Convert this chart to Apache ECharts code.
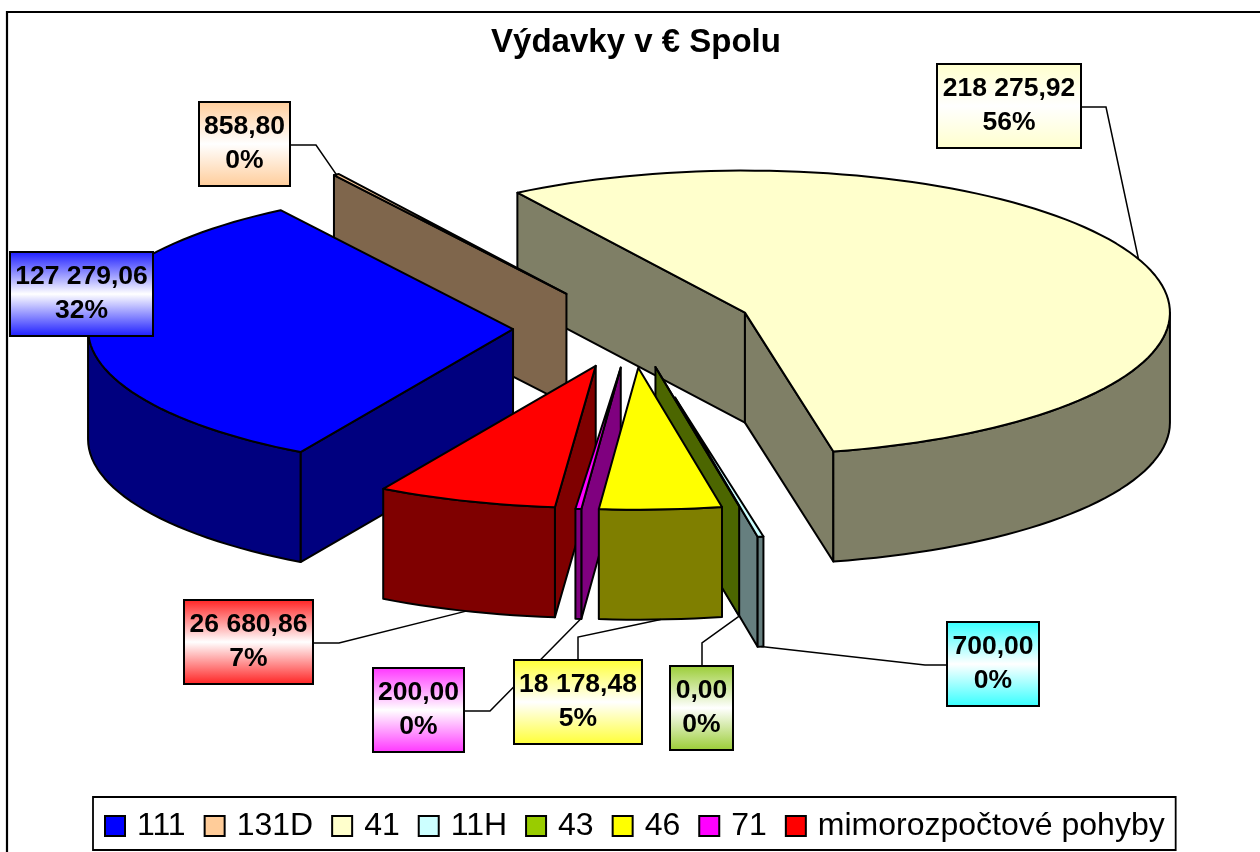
<!DOCTYPE html>
<html>
<head>
<meta charset="utf-8">
<style>
  html, body { margin: 0; padding: 0; background: #fff; }
  #chart { width: 1260px; height: 852px; }
</style>
<script src="https://cdn.jsdelivr.net/npm/echarts@6/dist/echarts.min.js"></script>
</head>
<body>
<div id="chart"></div>
<script>
// data
const chartTitle = 'Výdavky v € Spolu';
const categories = ['111', '131D', '41', '11H', '43', '46', '71', 'mimorozpočtové pohyby'];
const values = [127279.06, 858.80, 218275.92, 700.00, 0.00, 18178.48, 200.00, 26680.86];
const explodes = [28, 28.5, 28.7, 50, 28, 28, 28, 28]; // percent of radius
const colors = ['#0000ff', '#ffcc99', '#ffffcc', '#ccffff', '#99cc00', '#ffff00', '#ff00ff', '#ff0000'];
const labelColors = ['#1a1aff', '#ffcc99', '#ffffcc', '#33ffff', '#99cc33', '#ffff33', '#ff33ff', '#ff2020'];

// back to front
const drawOrder = ['41', '131D', '111', '11H', '43', 'mimorozpočtové pohyby', '71', '46'];

// pie layout, looks like Excel's tilted 3D pie
const cx = 632, cy = 328;
const rx = 425, ry = 142, depth = 110;
const firstAngle = 210;
const minSpan = 0.8; // thin slices still have to show up

// [x, y, w, h] of the label boxes
const labelBoxes = [
    [10, 252, 143, 84], [199, 102, 91, 84], [937, 64, 144, 84], [947, 622, 92, 84],
    [670, 666, 63, 84], [514, 660, 128, 84], [373, 668, 91, 84], [184, 600, 129, 84]
];
// leader line up to the last bend, the end is computed from the slice
const leaders = [
    null,
    [[290, 145], [316, 145]],
    [[1081, 107], [1106, 107]],
    [[1039, 665], [925, 665]],
    [[702, 666], [702, 643]],
    [[578, 660], [578, 637]],
    [[464, 711], [490, 711]],
    [[313, 643], [339, 643]]
];

const total = values.reduce((a, b) => a + b, 0);
const lineColor = '#000';
const lineW = 2;

function rad(d) { return d * Math.PI / 180; }

function darker(hex) {
    // walls are half as bright as the top
    const n = parseInt(hex.slice(1), 16);
    const r = (n >> 16 & 255) >> 1, g = (n >> 8 & 255) >> 1, b = (n & 255) >> 1;
    return 'rgb(' + r + ',' + g + ',' + b + ')';
}

function formatValue(v) {
    const parts = v.toFixed(2).split('.');
    return parts[0].replace(/\B(?=(\d{3})+$)/g, ' ') + ',' + parts[1];
}

// angles clockwise from the top
const slices = [];
let angle = firstAngle;
values.forEach(function (v, i) {
    const span = v / total * 360;
    const mid = angle + span / 2;
    const e = explodes[i] / 100;
    slices.push({
        start: angle,
        end: angle + (v > 0 ? Math.max(span, minSpan) : 0),
        mid: mid,
        ox: cx + rx * e * Math.sin(rad(mid)),
        oy: cy - ry * e * Math.cos(rad(mid))
    });
    angle += span;
});

function rimPoint(s, a, down) {
    return [s.ox + rx * Math.sin(rad(a)), s.oy - ry * Math.cos(rad(a)) + (down ? depth : 0)];
}

function arcPoints(s, a, b, down) {
    const pts = [];
    const n = Math.max(1, Math.ceil(Math.abs(b - a) / 2));
    for (let k = 0; k <= n; k++) {
        pts.push(rimPoint(s, a + (b - a) * k / n, down));
    }
    return pts;
}

function poly(points, fill) {
    return {
        type: 'polygon',
        shape: { points: points },
        style: { fill: fill, stroke: lineColor, lineWidth: lineW, lineJoin: 'round' },
        silent: true
    };
}

function wall(s, a, fill) {
    const p = rimPoint(s, a, false);
    return poly([[s.ox, s.oy], p, [p[0], p[1] + depth], [s.ox, s.oy + depth]], fill);
}

function renderSlice(i) {
    const s = slices[i];
    const side = darker(colors[i]);
    const children = [];
    // side walls, only the ones turned to the viewer
    if (Math.sin(rad(s.start)) < 0) children.push(wall(s, s.start, side));
    if (Math.sin(rad(s.end)) > 0) children.push(wall(s, s.end, side));
    // outer rim, front half is 90..270
    const ranges = [[90, 270], [450, 630]];
    ranges.forEach(function (r) {
        const a = Math.max(s.start, r[0]), b = Math.min(s.end, r[1]);
        if (b > a) {
            children.push(poly(arcPoints(s, a, b, false).concat(arcPoints(s, b, a, true)), side));
        }
    });
    // top
    children.push(poly([[s.ox, s.oy]].concat(arcPoints(s, s.start, s.end, false)), colors[i]));
    return { type: 'group', children: children };
}

function renderLeader(i) {
    const s = slices[i];
    if (!leaders[i]) return null;
    const front = Math.cos(rad(s.mid)) < 0;
    return {
        type: 'polyline',
        shape: { points: leaders[i].concat([rimPoint(s, s.mid, front)]) },
        style: { fill: null, stroke: lineColor, lineWidth: 1.5 },
        silent: true
    };
}

function renderLabel(i) {
    const box = labelBoxes[i];
    return {
        type: 'group',
        children: [{
            type: 'rect',
            shape: { x: box[0], y: box[1], width: box[2], height: box[3] },
            style: {
                fill: new echarts.graphic.LinearGradient(0, 0, 0, 1, [
                    { offset: 0, color: labelColors[i] },
                    { offset: 0.5, color: '#fff' },
                    { offset: 1, color: labelColors[i] }
                ]),
                stroke: lineColor,
                lineWidth: 2
            },
            silent: true
        }, {
            type: 'text',
            style: {
                x: box[0] + box[2] / 2,
                y: box[1] + box[3] / 2,
                text: formatValue(values[i]) + '\n' + Math.round(values[i] / total * 100) + '%',
                align: 'center',
                verticalAlign: 'middle',
                lineHeight: 34,
                fill: '#000',
                font: 'bold 26.5px "Liberation Sans", Arial, sans-serif'
            },
            silent: true
        }]
    };
}

const series = categories.map(function (name, i) {
    return {
        type: 'custom',
        name: name,
        coordinateSystem: 'none',
        z: 2 + drawOrder.indexOf(name),
        itemStyle: { color: colors[i] },
        data: [[values[i]]],
        renderItem: function () { return renderSlice(i); }
    };
});
series.push({
    type: 'custom',
    name: 'leaders',
    coordinateSystem: 'none',
    z: 19,
    data: categories.map(function (c, i) { return [i]; }),
    renderItem: function (params) { return renderLeader(params.dataIndex); }
});
series.push({
    type: 'custom',
    name: 'labels',
    coordinateSystem: 'none',
    z: 20,
    data: categories.map(function (c, i) { return [i]; }),
    renderItem: function (params) { return renderLabel(params.dataIndex); }
});

const chart = echarts.init(document.getElementById('chart'), null, { renderer: 'canvas' });
chart.setOption({
    animation: false,
    backgroundColor: '#fff',
    title: {
        text: chartTitle,
        left: 631,
        top: 21,
        textAlign: 'center',
        textStyle: { fontFamily: '"Liberation Sans", Arial, sans-serif', fontWeight: 'bold', fontSize: 33, color: '#000' }
    },
    legend: {
        data: categories,
        left: 93,
        top: 797,
        orient: 'horizontal',
        icon: 'rect',
        selectedMode: false,
        itemWidth: 20,
        itemHeight: 20,
        itemGap: 18,
        padding: [13, 11, 8, 11],
        backgroundColor: '#fff',
        borderColor: '#000',
        borderWidth: 1.8,
        itemStyle: { borderColor: '#000', borderWidth: 2 },
        textStyle: { fontFamily: '"Liberation Sans", Arial, sans-serif', fontSize: 32, color: '#000', padding: [0, 0, 0, 7] }
    },
    graphic: [{
        type: 'polyline',
        shape: { points: [[7, 852], [7, 12], [1260, 12]] },
        style: { fill: null, stroke: '#000', lineWidth: 2.2 },
        silent: true
    }],
    series: series
});
</script>
</body>
</html>
